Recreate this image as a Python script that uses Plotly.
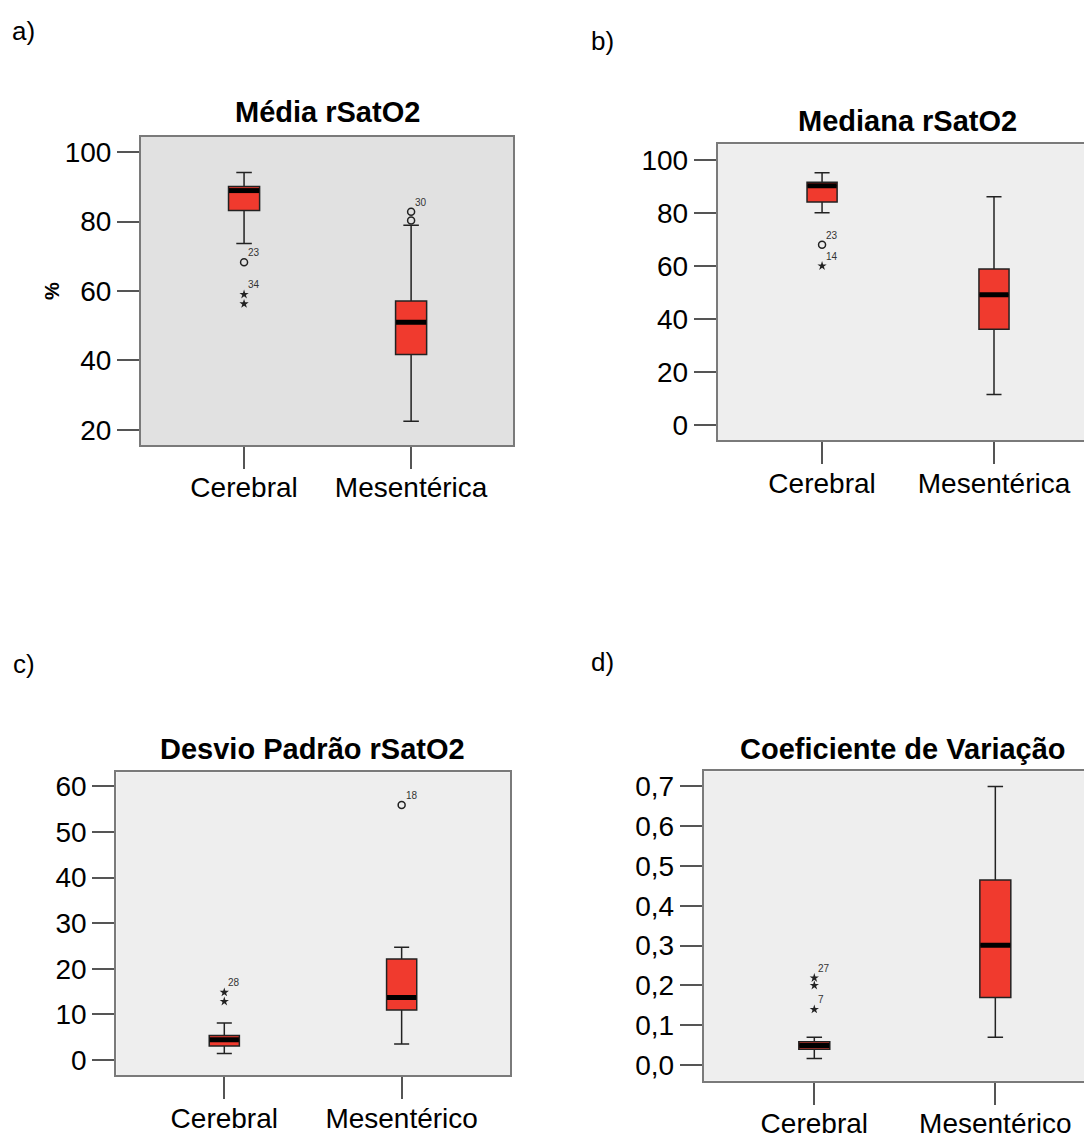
import plotly.graph_objects as go

# ---------------- data ----------------
categories_ab = ["Cerebral", "Mesentérica"]
categories_cd = ["Cerebral", "Mesentérico"]

# panel a: Média rSatO2 (q1, median, q3, lower whisker, upper whisker)
media_q1 = [83.2, 41.7]
media_med = [88.9, 51.0]
media_q3 = [90.1, 57.1]
media_lo = [73.7, 22.5]
media_hi = [94.1, 78.9]
media_out_circ = [(0, 68.3, "23"), (1, 80.3, ""), (1, 82.8, "30")]
media_out_star = [(0, 59.0, "34"), (0, 56.3, "")]

# panel b: Mediana rSatO2
mediana_q1 = [84.1, 36.2]
mediana_med = [90.2, 49.2]
mediana_q3 = [91.5, 58.9]
mediana_lo = [80.0, 11.6]
mediana_hi = [95.1, 86.1]
mediana_out_circ = [(0, 68.0, "23")]
mediana_out_star = [(0, 60.0, "14")]

# panel c: Desvio Padrão rSatO2
dp_q1 = [3.05, 10.96]
dp_med = [4.42, 13.7]
dp_q3 = [5.36, 22.1]
dp_lo = [1.37, 3.49]
dp_hi = [8.06, 24.7]
dp_out_circ = [(1, 55.9, "18")]
dp_out_star = [(0, 14.8, "28"), (0, 12.8, "")]

# panel d: Coeficiente de Variação
cv_q1 = [0.040, 0.170]
cv_med = [0.049, 0.301]
cv_q3 = [0.059, 0.465]
cv_lo = [0.0167, 0.070]
cv_hi = [0.0698, 0.700]
cv_out_circ = []
cv_out_star = [(0, 0.219, "27"), (0, 0.200, ""), (0, 0.140, "7")]

ticks_a = [20, 40, 60, 80, 100]
ticks_b = [0, 20, 40, 60, 80, 100]
ticks_c = [0, 10, 20, 30, 40, 50, 60]
ticks_d = [0.0, 0.1, 0.2, 0.3, 0.4, 0.5, 0.6, 0.7]
ticktext_d = ["0,0", "0,1", "0,2", "0,3", "0,4", "0,5", "0,6", "0,7"]

# ---------------- styling ----------------
OFF = 8  # page body margin
W, H = 1092 - OFF, 1139 - OFF
RED = "#F03A2E"
FONT = "Liberation Sans, Arial, sans-serif"
BORDER = "#7a7a7a"
TICKC = "#555555"


def px(x):
    return (x - OFF) / W


def py(y):
    return 1 - (y - OFF) / H


fig = go.Figure()

panels = [
    dict(key="", cats=categories_ab, q1=media_q1, med=media_med, q3=media_q3, lo=media_lo, hi=media_hi,
         circ=media_out_circ, star=media_out_star, title="Média rSatO2",
         xdom=[px(141), px(513)], ydom=[py(447), py(137)], xr=[-0.617, 1.61], yr=[15.7, 104.3],
         tv=ticks_a, tt=[str(t) for t in ticks_a], bg="#E1E1E1", bw=0.186, mirror_y=True,
         title_xy=(327, 112), lab="a)", lab_xy=(23, 30)),
    dict(key="2", cats=categories_ab, q1=mediana_q1, med=mediana_med, q3=mediana_q3, lo=mediana_lo, hi=mediana_hi,
         circ=mediana_out_circ, star=mediana_out_star, title="Mediana rSatO2",
         xdom=[px(717.7), 1.0], ydom=[py(442.3), py(144.3)], xr=[-0.607, 1.57], yr=[-5.6, 105.8],
         tv=ticks_b, tt=[str(t) for t in ticks_b], bg="#EEEEEE", bw=0.175, mirror_y=False,
         title_xy=(907, 121), lab="b)", lab_xy=(602, 40)),
    dict(key="3", cats=categories_cd, q1=dp_q1, med=dp_med, q3=dp_q3, lo=dp_lo, hi=dp_hi,
         circ=dp_out_circ, star=dp_out_star, title="Desvio Padrão rSatO2",
         xdom=[px(116.3), px(510)], ydom=[py(1081.7), py(776.7)], xr=[-0.609, 1.611], yr=[-3.35, 63.1],
         tv=ticks_c, tt=[str(t) for t in ticks_c], bg="#EEEEEE", bw=0.17, mirror_y=True,
         title_xy=(312, 753), lab="c)", lab_xy=(24, 668)),
    dict(key="4", cats=categories_cd, q1=cv_q1, med=cv_med, q3=cv_q3, lo=cv_lo, hi=cv_hi,
         circ=cv_out_circ, star=cv_out_star, title="Coeficiente de Variação",
         xdom=[px(703.7), 1.0], ydom=[py(1087.3), py(775.7)], xr=[-0.611, 1.534], yr=[-0.039, 0.738],
         tv=ticks_d, tt=ticktext_d, bg="#EEEEEE", bw=0.171, mirror_y=False,
         title_xy=(903, 753), lab="d)", lab_xy=(602, 666)),
]

annotations = []
shapes = []
layout_axes = {}
for p in panels:
    k = p["key"]
    xa, ya = "x" + k, "y" + k
    idx = list(range(len(p["cats"])))
    for i in idx:
        fig.add_trace(go.Box(
            x=[i], q1=[p["q1"][i]], median=[p["med"][i]], q3=[p["q3"][i]],
            lowerfence=[p["lo"][i]], upperfence=[p["hi"][i]],
            width=p["bw"], whiskerwidth=0.5, boxpoints=False,
            fillcolor=RED, line=dict(color="#222222", width=1.5),
            xaxis=xa, yaxis=ya, showlegend=False, hoverinfo="skip"))
        # thick median bar
        fig.add_trace(go.Scatter(
            x=[i - p["bw"] / 2 * 0.97, i + p["bw"] / 2 * 0.97], y=[p["med"][i], p["med"][i]],
            mode="lines", line=dict(color="black", width=5),
            xaxis=xa, yaxis=ya, showlegend=False, hoverinfo="skip"))
    if p["circ"]:
        fig.add_trace(go.Scatter(
            x=[c[0] for c in p["circ"]], y=[c[1] for c in p["circ"]], mode="markers",
            marker=dict(symbol="circle-open", size=7, color="#222222", line=dict(width=1.5)),
            xaxis=xa, yaxis=ya, showlegend=False, hoverinfo="skip"))
    if p["star"]:
        fig.add_trace(go.Scatter(
            x=[c[0] for c in p["star"]], y=[c[1] for c in p["star"]], mode="markers",
            marker=dict(symbol="star", size=7, color="#222222", line=dict(width=0)),
            xaxis=xa, yaxis=ya, showlegend=False, hoverinfo="skip"))
    for c in p["circ"] + p["star"]:
        if c[2]:
            annotations.append(dict(x=c[0], y=c[1], xref=xa, yref=ya, text=c[2], showarrow=False,
                                    xanchor="left", yanchor="bottom", xshift=2, yshift=2,
                                    font=dict(family=FONT, size=10, color="#333333")))
    annotations.append(dict(x=px(p["title_xy"][0]), y=py(p["title_xy"][1]), xref="paper", yref="paper",
                            text="<b>" + p["title"] + "</b>", showarrow=False, xanchor="center", yanchor="middle",
                            font=dict(family=FONT, size=29, color="black")))
    annotations.append(dict(x=px(p["lab_xy"][0]), y=py(p["lab_xy"][1]), xref="paper", yref="paper",
                            text=p["lab"], showarrow=False, xanchor="center", yanchor="middle",
                            font=dict(family=FONT, size=26, color="black")))
    layout_axes["xaxis" + k] = dict(
        domain=p["xdom"], range=p["xr"], anchor=ya, tickmode="array", tickvals=idx, ticktext=p["cats"],
        showline=True, linecolor=BORDER, linewidth=2, mirror=True, ticks="outside", ticklen=22,
        tickwidth=2, tickcolor=TICKC, showgrid=False, zeroline=False, ticklabelstandoff=-5,
        tickfont=dict(family=FONT, size=28, color="black"), fixedrange=True)
    layout_axes["yaxis" + k] = dict(
        domain=p["ydom"], range=p["yr"], anchor=xa, tickmode="array", tickvals=p["tv"], ticktext=p["tt"],
        showline=True, linecolor=BORDER, linewidth=2, mirror=p["mirror_y"], ticks="outside", ticklen=22,
        tickwidth=2, tickcolor=TICKC, showgrid=False, zeroline=False,
        tickfont=dict(family=FONT, size=28, color="black"), fixedrange=True)
    shapes.append(dict(type="rect", xref="x" + k + " domain", yref="y" + k + " domain", x0=0, x1=1, y0=0, y1=1,
                       fillcolor=p["bg"], line=dict(width=0), layer="below"))

# y-axis title "%" for panel a
annotations.append(dict(x=px(52), y=py(292), xref="paper", yref="paper", text="<b>%</b>", textangle=-90,
                        xanchor="center", yanchor="middle",
                        showarrow=False, font=dict(family=FONT, size=20, color="black")))

fig.update_layout(
    width=W, height=H, margin=dict(l=0, r=0, t=0, b=0),
    paper_bgcolor="white", plot_bgcolor="rgba(0,0,0,0)",
    annotations=annotations, shapes=shapes, showlegend=False,
    **layout_axes)

fig.write_html("out.html", config={"displayModeBar": False})
